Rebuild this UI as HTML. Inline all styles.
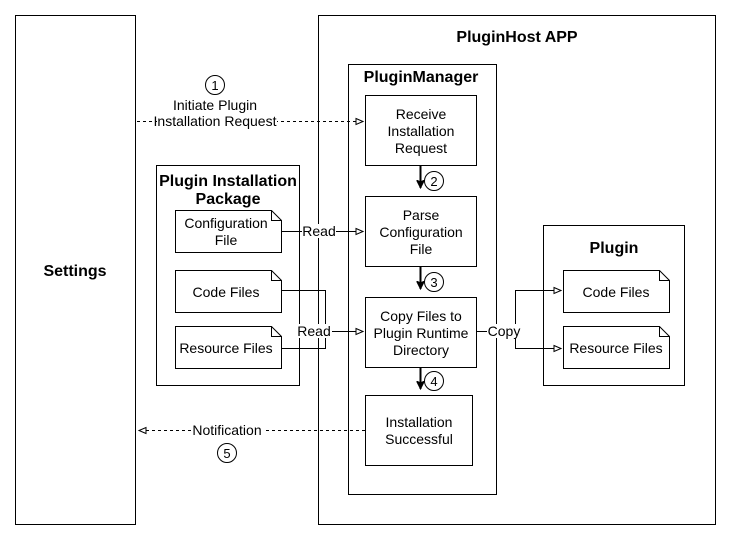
<!DOCTYPE html>
<html><head><meta charset="utf-8"><style>html,body{margin:0;padding:0;background:#fff}svg{display:block}</style></head><body>
<svg width="731" height="542" viewBox="0 0 731 542" xmlns="http://www.w3.org/2000/svg" font-family="Liberation Sans, Arial, sans-serif" font-size="14" fill="none" stroke="#000">
<defs>
<marker id="oa" markerWidth="10" markerHeight="10" refX="8" refY="4" orient="auto" markerUnits="userSpaceOnUse"><path d="M1,1 L8,4 L1,7 Z" fill="#fff" stroke="#000" stroke-width="1"/></marker>
<marker id="fa" markerWidth="10" markerHeight="10" refX="4" refY="8" orient="0" markerUnits="userSpaceOnUse"><path d="M0,0 L4,8 L8,0 L4,2 Z" fill="#000" stroke="#000" stroke-width="1"/></marker>
</defs>
<g stroke-width="1">
<rect x="15.5" y="15.5" width="120" height="509" fill="#fff"/>
<rect x="318.5" y="15.5" width="397" height="509" fill="#fff"/>
<rect x="348.5" y="64.5" width="148" height="430" fill="#fff"/>
<rect x="156.5" y="165.5" width="143" height="220" fill="#fff"/>
<rect x="543.5" y="225.5" width="141" height="160" fill="#fff"/>
<rect x="365.5" y="95.5" width="111" height="70" fill="#fff"/>
<rect x="365.5" y="196.5" width="111" height="70" fill="#fff"/>
<rect x="365.5" y="297.5" width="111" height="70" fill="#fff"/>
<rect x="365.5" y="395.5" width="107" height="70" fill="#fff"/>
<path d="M175.5,210.5 H271.5 L281.5,220.5 V252.5 H175.5 Z M271.5,210.5 V220.5 H281.5" fill="#fff"/>
<path d="M175.5,270.5 H271.5 L281.5,280.5 V312.5 H175.5 Z M271.5,270.5 V280.5 H281.5" fill="#fff"/>
<path d="M175.5,326.5 H271.5 L281.5,336.5 V368.5 H175.5 Z M271.5,326.5 V336.5 H281.5" fill="#fff"/>
<path d="M563.5,270.5 H659.5 L669.5,280.5 V312.5 H563.5 Z M659.5,270.5 V280.5 H669.5" fill="#fff"/>
<path d="M563.5,326.5 H659.5 L669.5,336.5 V368.5 H563.5 Z M659.5,326.5 V336.5 H669.5" fill="#fff"/>
<path d="M137,121.5 H363" stroke-dasharray="3,3" marker-end="url(#oa)"/>
<path d="M281,231.5 H363" marker-end="url(#oa)"/>
<path d="M281,290.5 H325.5 V348.5 H281 M325.5,331.5 H363" marker-end="url(#oa)"/>
<path d="M476,331.5 H515.5 V290.5 H561" marker-end="url(#oa)"/>
<path d="M515.5,331.5 V348.5 H561" marker-end="url(#oa)"/>
<path d="M365,430.5 H139" stroke-dasharray="3,3" marker-end="url(#oa)"/>
<path d="M420.5,166 V188" stroke-width="2" marker-end="url(#fa)"/>
<path d="M420.5,367 V389" stroke-width="2" marker-end="url(#fa)"/>
<path d="M420.5,267 V289" stroke-width="2" marker-end="url(#fa)"/>
<circle cx="215" cy="85" r="9.5" fill="#fff"/>
<circle cx="434" cy="181" r="9.5" fill="#fff"/>
<circle cx="434" cy="282" r="9.5" fill="#fff"/>
<circle cx="434" cy="381" r="9.5" fill="#fff"/>
<circle cx="227" cy="453" r="9.5" fill="#fff"/>
</g>
<g stroke="none" fill="#000" text-anchor="middle">
<rect x="157" y="114" width="120" height="14" fill="#fff"/>
<rect x="302" y="224" width="34" height="14" fill="#fff"/>
<rect x="298" y="324" width="34" height="14" fill="#fff"/>
<rect x="487" y="324" width="34" height="14" fill="#fff"/>
<rect x="191" y="423" width="72" height="14" fill="#fff"/>
<g font-size="13"><text x="215" y="90">1</text><text x="434" y="186">2</text><text x="434" y="287">3</text><text x="434" y="386">4</text><text x="227" y="458">5</text></g>
<text x="215" y="110">Initiate Plugin</text><text x="215" y="126">Installation Request</text>
<text x="319" y="236">Read</text><text x="314" y="336">Read</text><text x="504" y="336">Copy</text><text x="227" y="435">Notification</text>
<text x="75" y="276" font-weight="bold" font-size="16">Settings</text>
<text x="517" y="42" font-weight="bold" font-size="16">PluginHost APP</text>
<text x="421" y="82" font-weight="bold" font-size="16">PluginManager</text>
<text x="228" y="186" font-weight="bold" font-size="16">Plugin Installation</text>
<text x="228" y="204" font-weight="bold" font-size="16">Package</text>
<text x="614" y="253" font-weight="bold" font-size="16">Plugin</text>
<text x="421" y="119">Receive</text><text x="421" y="136">Installation</text><text x="421" y="153">Request</text>
<text x="421" y="220">Parse</text><text x="421" y="237">Configuration</text><text x="421" y="254">File</text>
<text x="421" y="321">Copy Files to</text><text x="421" y="338">Plugin Runtime</text><text x="421" y="355">Directory</text>
<text x="419" y="427">Installation</text><text x="419" y="444">Successful</text>
<text x="226" y="228">Configuration</text><text x="226" y="245">File</text>
<text x="226" y="297">Code Files</text><text x="226" y="353">Resource Files</text>
<text x="616" y="297">Code Files</text><text x="616" y="353">Resource Files</text>
</g>
</svg>
</body></html>
